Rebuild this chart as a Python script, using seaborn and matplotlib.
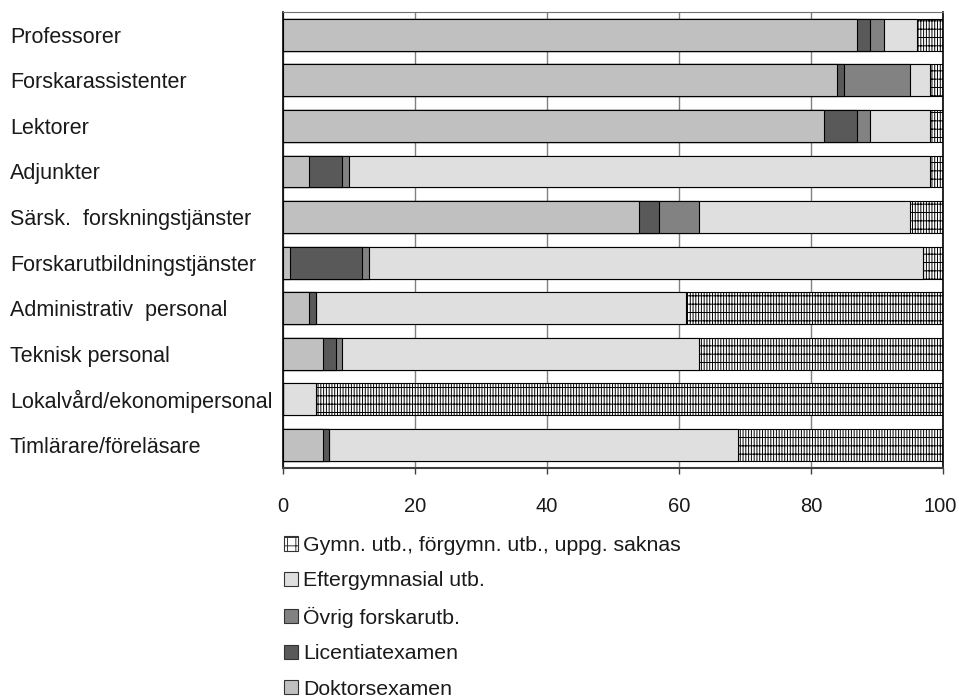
import matplotlib
matplotlib.use("Agg")
import matplotlib.pyplot as plt
import matplotlib.transforms as mtransforms
from matplotlib.patches import Patch
import numpy as np
import pandas as pd
import seaborn as sns

categories = ["Professorer", "Forskarassistenter", "Lektorer", "Adjunkter",
              "Särsk.  forskningstjänster", "Forskarutbildningstjänster",
              "Administrativ  personal", "Teknisk personal",
              "Lokalvård/ekonomipersonal", "Timlärare/föreläsare"]
doktor = [87, 84, 82, 4, 54, 1, 4, 6, 0, 6]
licentiat = [2, 1, 5, 5, 3, 11, 1, 2, 0, 1]
ovrig = [2, 10, 2, 1, 6, 1, 0, 1, 0, 0]
efter = [5, 3, 9, 88, 32, 84, 56, 54, 5, 62]
gymn = [4, 2, 2, 2, 5, 3, 39, 37, 95, 31]

series_names = ["Doktorsexamen", "Licentiatexamen", "Övrig forskarutb.",
                "Eftergymnasial utb.", "Gymn. utb., förgymn. utb., uppg. saknas"]
series_vals = [doktor, licentiat, ovrig, efter, gymn]
colors = ["#c0c0c0", "#595959", "#828282", "#dfdfdf", "#ffffff"]
hatches = [None, None, None, None, "++||||"]
xticks = [0, 20, 40, 60, 80, 100]

sns.set_theme(style="white")
plt.rcParams["font.family"] = ["Liberation Sans", "DejaVu Sans"]
plt.rcParams["hatch.linewidth"] = 0.7
plt.rcParams["hatch.color"] = "black"

df = pd.DataFrame({"category": categories})
cum = np.zeros(len(categories))
for name, vals in zip(series_names, series_vals):
    cum = cum + np.array(vals, dtype=float)
    df[name] = cum

fig = plt.figure(figsize=(9.59, 7.0), dpi=100)
ax = fig.add_axes([283 / 959, 1 - 467.7 / 700, (943 - 283) / 959, (467.7 - 12) / 700])

for name, col, h in reversed(list(zip(series_names, colors, hatches))):
    kw = {}
    if h:
        kw["hatch"] = h
    sns.barplot(data=df, x=name, y="category", orient="h", color=col,
                saturation=1, width=0.7, edgecolor="black", linewidth=0.8,
                errorbar=None, ax=ax, **kw)

ax.set_xlim(0, 100)
ax.set_ylim(9.5, -0.5)
ax.set_xticks(xticks)
ax.set_xticklabels([str(t) for t in xticks])
ax.set_xlabel("")
ax.set_ylabel("")
ax.xaxis.grid(True, color="#808080", linewidth=1.0)
ax.yaxis.grid(False)
ax.set_axisbelow(True)

for s in ["left", "right"]:
    ax.spines[s].set_color("black")
    ax.spines[s].set_linewidth(1.2)
ax.spines["bottom"].set_color("#404040")
ax.spines["bottom"].set_linewidth(1.5)
ax.spines["top"].set_color("#707070")
ax.spines["top"].set_linewidth(0.8)

ax.tick_params(axis="x", which="both", bottom=True, length=4, width=1,
               color="#404040", pad=17, labelsize=14.5, labelcolor="#1a1a1a")
ax.tick_params(axis="y", length=0, pad=(283 - 10) * 0.72, labelsize=15.5,
               labelcolor="#1a1a1a")
for lab in ax.get_yticklabels():
    lab.set_horizontalalignment("left")
    lab.set_verticalalignment("center_baseline")

last = ax.get_xticklabels()[-1]
last.set_transform(last.get_transform() +
                   mtransforms.ScaledTranslation(-3 / 100, 0, fig.dpi_scale_trans))

handles = []
for name, col, h in reversed(list(zip(series_names, colors, hatches))):
    handles.append(Patch(facecolor=col, edgecolor="#333333", linewidth=0.8,
                         hatch="++" if h else None, label=name))
fig.legend(handles=handles, loc="upper left",
           bbox_to_anchor=(284 / 959, 1 - 536 / 700), frameon=False,
           fontsize=15.3, handlelength=0.65, handleheight=0.65,
           handletextpad=0.25, labelspacing=0.77, borderpad=0,
           borderaxespad=0, labelcolor="#1a1a1a")

fig.savefig("out.png", dpi=100)
